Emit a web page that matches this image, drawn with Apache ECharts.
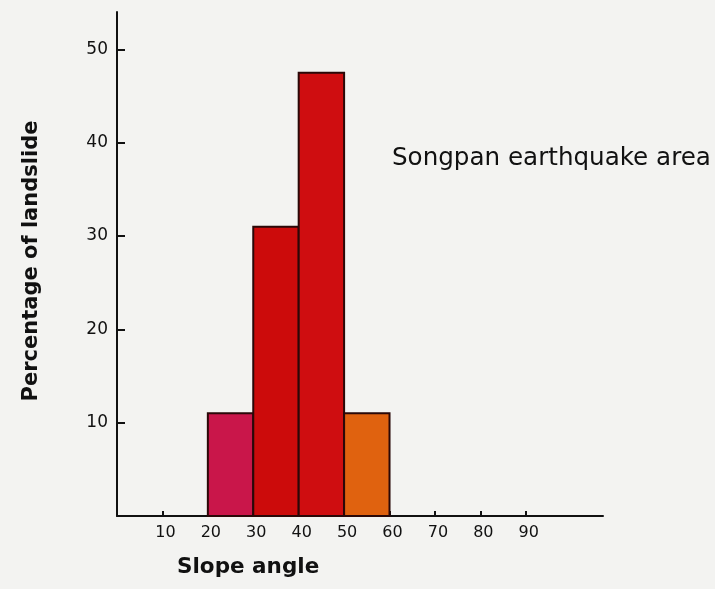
<!DOCTYPE html>
<html>
<head>
<meta charset="utf-8">
<script src="https://cdn.jsdelivr.net/npm/echarts@6/dist/echarts.min.js"></script>
<style>
  html, body { margin: 0; padding: 0; background: #f3f3f1; }
  #chart { width: 715px; height: 589px; }
</style>
</head>
<body>
<div id="chart"></div>
<script>
// slope-angle classes (degrees) and share of landslides (%)
const binStart = [20, 30, 40, 50];
const binEnd = [30, 40, 50, 60];
const percent = [11, 31, 47.5, 11];
const barColors = ['#c9164a', '#cc0b0b', '#cf0d10', '#e0620f'];
const xTicks = [10, 20, 30, 40, 50, 60, 70, 80, 90];
const yTicks = [10, 20, 30, 40, 50];

const font = 'DejaVu Sans';

const myChart = echarts.init(document.getElementById('chart'));

const bins = binStart.map((s, i) => [s, binEnd[i], percent[i], i]);

myChart.setOption({
    backgroundColor: '#f3f3f1',
    animation: false,
    grid: {
        left: 117,
        right: 112,
        top: 12,
        bottom: 73
    },
    xAxis: {
        type: 'value',
        min: 0,
        max: 107,
        splitLine: { show: false },
        axisLine: { lineStyle: { color: '#111', width: 2 } },
        axisTick: {
            inside: true,
            length: 5,
            customValues: xTicks,
            lineStyle: { color: '#111', width: 2 }
        },
        axisLabel: {
            customValues: xTicks,
            margin: 9,
            color: '#111',
            fontFamily: font,
            fontSize: 16,
            padding: [0, 0, 0, 6]
        }
    },
    yAxis: {
        type: 'value',
        min: 0,
        max: 54,
        splitLine: { show: false },
        axisLine: { lineStyle: { color: '#111', width: 2 } },
        axisTick: {
            inside: true,
            length: 8,
            customValues: yTicks,
            lineStyle: { color: '#111', width: 2 }
        },
        axisLabel: {
            customValues: yTicks,
            margin: 9,
            color: '#111',
            fontFamily: font,
            fontSize: 17
        }
    },
    series: [{
        type: 'custom',
        z: 5,
        data: bins,
        renderItem: function (params, api) {
            const p0 = api.coord([api.value(0), 0]);
            const p1 = api.coord([api.value(1), api.value(2)]);
            return {
                type: 'rect',
                shape: { x: p0[0], y: p1[1], width: p1[0] - p0[0], height: p0[1] - p1[1] },
                style: {
                    fill: barColors[api.value(3)],
                    stroke: '#2a0808',
                    lineWidth: 2
                }
            };
        }
    }],
    graphic: [
        {
            type: 'text',
            left: 392,
            top: 146,
            style: {
                text: 'Songpan earthquake area',
                fill: '#111',
                font: '24.6px "DejaVu Sans"'
            }
        },
        {
            type: 'text',
            left: 177,
            top: 556,
            style: {
                text: 'Slope angle',
                fill: '#111',
                font: 'bold 21.5px "DejaVu Sans"'
            }
        },
        {
            type: 'text',
            x: 32,
            y: 261,
            rotation: Math.PI / 2,
            style: {
                text: 'Percentage of landslide',
                fill: '#111',
                font: 'bold 21px "DejaVu Sans"',
                align: 'center',
                verticalAlign: 'middle'
            }
        }
    ]
});
</script>
</body>
</html>
